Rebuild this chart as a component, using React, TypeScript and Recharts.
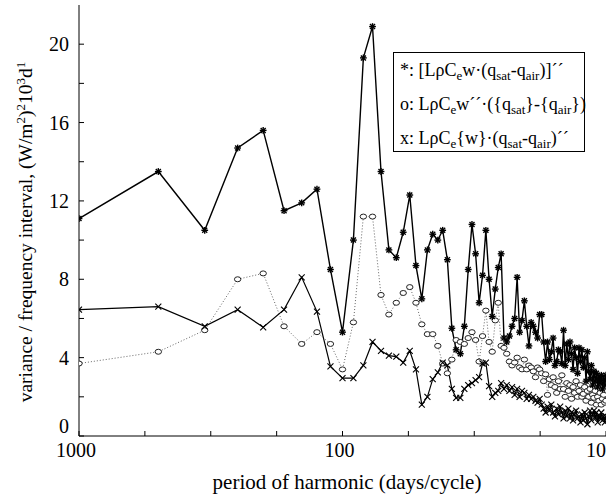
import { Line, LineChart, XAxis, YAxis } from "recharts";

// record length in days; harmonic k has period RECORD_DAYS / k
const RECORD_DAYS = 1000;
const harmonics = Array.from({ length: 100 }, (_, i) => i + 1);

// *: [LpCe w (qsat - qair)]''
const starSeries = [
  11.1, 13.5, 10.5, 14.7, 15.6, 11.5, 11.9, 12.6, 8.5, 5.3,
  10.0, 19.3, 20.9, 13.5, 9.5, 9.1, 10.4, 12.3, 8.7, 7.0,
  9.5, 10.3, 10.0, 10.5, 9.0, 5.5, 4.4, 4.2, 5.6, 8.5,
  10.8, 9.3, 6.8, 8.2, 10.5, 8.0, 6.1, 7.5, 8.6, 9.3,
  5.0, 4.8, 5.1, 5.6, 6.0, 8.1, 5.3, 5.9, 6.9, 5.6,
  4.6, 5.8, 5.6, 5.3, 5.0, 6.2, 6.2, 4.8, 3.8, 4.8,
  3.9, 4.3, 5.0, 3.6, 3.8, 4.4, 4.3, 3.7, 5.4, 3.6,
  4.7, 3.9, 4.8, 4.2, 3.4, 4.5, 4.0, 3.2, 4.5, 3.8,
  4.4, 3.5, 4.0, 2.8, 4.3, 3.3, 2.9, 3.6, 2.6, 3.3,
  2.8, 3.2, 2.5, 3.0, 2.7, 3.1, 2.4, 2.9, 2.6, 3.1,
];

// o: LpCe w''({qsat}-{qair})
const circleSeries = [
  3.7, 4.3, 5.4, 8.0, 8.3, 5.6, 4.7, 5.3, 4.7, 3.4,
  5.8, 11.2, 11.2, 7.2, 6.2, 6.8, 7.3, 7.6, 6.8, 5.7,
  5.2, 5.2, 4.6, 3.7, 3.2, 3.9, 4.9, 4.8, 4.7, 5.0,
  5.3, 4.9, 3.8, 5.1, 6.4, 4.8, 4.3, 5.9, 6.8, 4.6,
  4.5, 4.2, 3.8, 3.6, 3.75, 4.0, 3.5, 3.4, 3.9, 3.4,
  3.6, 3.5, 3.3, 3.0, 3.5, 3.4, 3.2, 2.8, 3.15, 2.1,
  2.9, 2.6, 3.0, 2.5, 2.2, 2.8, 2.4, 3.1, 2.4, 2.0,
  2.7, 2.3, 2.6, 1.9, 2.5, 2.2, 2.8, 2.0, 2.3, 2.6,
  2.0, 2.15, 2.5, 1.8, 2.3, 2.0, 2.4, 1.7, 2.1, 1.95,
  2.3, 1.6, 2.0, 1.8, 2.2, 1.6, 1.9, 2.1, 1.7, 1.8,
];

// x: LpCe{w}(qsat-qair)''
const crossSeries = [
  6.45, 6.6, 5.6, 6.45, 5.55, 6.45, 8.1, 6.35, 3.55, 2.95,
  2.95, 3.6, 4.8, 4.35, 4.1, 4.05, 3.75, 4.35, 3.4, 1.6,
  2.0, 2.9, 3.25, 3.75, 3.6, 2.4, 1.95, 1.95, 2.4, 2.6,
  2.7, 2.85, 3.0, 3.7, 3.75, 2.55, 2.0, 2.2, 2.3, 2.7,
  2.4, 2.6, 2.3, 2.5, 2.1, 2.4, 2.0, 2.3, 2.2, 1.9,
  2.1, 1.9, 2.0, 1.8, 1.7, 1.9, 1.6, 1.4, 1.2, 1.5,
  1.3, 1.6, 1.2, 1.0, 1.4, 1.1, 1.5, 1.2, 0.9, 1.3,
  1.0, 1.4, 0.9, 1.2, 0.8, 1.1, 1.3, 0.9, 1.0, 0.7,
  1.1, 0.8, 1.2, 0.9, 0.6, 1.0, 1.3, 0.8, 1.1, 1.3,
  0.9, 1.2, 0.7, 1.0, 0.9, 1.2, 0.8, 1.0, 0.7, 1.0,
];

const xTicks = [1000, 562.3, 316.2, 177.8, 100, 56.23, 31.62, 17.78, 10];
const xLabels = [1000, 100, 10];
const yTicks = [0, 2, 4, 6, 8, 10, 12, 14, 16, 18, 20];
const yLabels = [0, 4, 8, 12, 16, 20];

const data = harmonics.map((k, i) => ({
  period: RECORD_DAYS / k,
  star: starSeries[i],
  circle: circleSeries[i],
  cross: crossSeries[i],
}));

const FONT = "'Liberation Serif', 'Times New Roman', serif";

const BottomTick = (props: any) => {
  const { x, y, payload } = props;
  const v = payload.value;
  // the last label sits on the right edge, keep it inside the picture
  const atEdge = v === 10;
  return (
    <g>
      <line x1={x} y1={y} x2={x} y2={y - 5} stroke="#000" />
      {xLabels.includes(v) && (
        <text
          x={atEdge ? x : x - 3}
          y={y + 21}
          textAnchor={atEdge ? "end" : "middle"}
          fontSize={20}
          fontFamily={FONT}
          fill="#000"
        >
          {v}
        </text>
      )}
    </g>
  );
};

const TopTick = (props: any) => {
  const { x, y } = props;
  return <line x1={x} y1={y} x2={x} y2={y + 5} stroke="#000" />;
};

const LeftTick = (props: any) => {
  const { x, y, payload } = props;
  const v = payload.value;
  return (
    <g>
      <line x1={x} y1={y} x2={x + 5} y2={y} stroke="#000" />
      {yLabels.includes(v) && (
        <text
          x={x - 10}
          y={v === 0 ? y - 10 : y}
          dy="0.35em"
          textAnchor="end"
          fontSize={20}
          fontFamily={FONT}
          fill="#000"
        >
          {v}
        </text>
      )}
    </g>
  );
};

const RightTick = (props: any) => {
  const { x, y } = props;
  return <line x1={x} y1={y} x2={x - 6} y2={y} stroke="#000" />;
};

const StarDot = (props: any) => {
  const { cx, cy } = props;
  if (cx == null || cy == null) return null;
  const r = 3.4;
  const d = 2.5;
  return (
    <g stroke="#000" strokeWidth={1.4}>
      <line x1={cx - r} y1={cy} x2={cx + r} y2={cy} />
      <line x1={cx} y1={cy - r} x2={cx} y2={cy + r} />
      <line x1={cx - d} y1={cy - d} x2={cx + d} y2={cy + d} />
      <line x1={cx - d} y1={cy + d} x2={cx + d} y2={cy - d} />
    </g>
  );
};

const CircleDot = (props: any) => {
  const { cx, cy } = props;
  if (cx == null || cy == null) return null;
  return <ellipse cx={cx} cy={cy} rx={3.2} ry={2.5} fill="#fff" stroke="#222" strokeWidth={1} />;
};

const CrossDot = (props: any) => {
  const { cx, cy } = props;
  if (cx == null || cy == null) return null;
  const d = 3;
  return (
    <g stroke="#000" strokeWidth={1.1}>
      <line x1={cx - d} y1={cy - d} x2={cx + d} y2={cy + d} />
      <line x1={cx - d} y1={cy + d} x2={cx + d} y2={cy - d} />
    </g>
  );
};

const sub = { fontSize: 13, lineHeight: 0, verticalAlign: "-4px" } as const;

const LegendBox = () => (
  <div
    style={{
      position: "absolute",
      left: 393,
      top: 52,
      width: 192,
      height: 100,
      boxSizing: "border-box",
      border: "1px solid #000",
      background: "#fff",
      fontFamily: FONT,
      fontSize: 18,
      lineHeight: "34px",
      paddingLeft: 6,
      whiteSpace: "nowrap",
      color: "#000",
    }}
  >
    <div>
      *: [LρC<span style={sub}>e</span>w·(q<span style={sub}>sat</span>-q<span style={sub}>air</span>)]´´
    </div>
    <div>
      o: LρC<span style={sub}>e</span>w´´·({"{"}q<span style={sub}>sat</span>{"}"}-{"{"}q<span style={sub}>air</span>{"})"}
    </div>
    <div>
      x: LρC<span style={sub}>e</span>{"{w}"}·(q<span style={sub}>sat</span>-q<span style={sub}>air</span>)´´
    </div>
  </div>
);

const sup = { fontSize: 13, lineHeight: 0, verticalAlign: "7px" } as const;

export default function App() {
  return (
    <div
      style={{
        position: "absolute",
        left: 0,
        top: 0,
        width: 606,
        height: 494,
        background: "#fff",
        overflow: "hidden",
      }}
    >
      <LineChart width={606} height={494} data={data} margin={{ top: 5, right: 0, bottom: 0, left: 0 }}>
        <XAxis
          xAxisId="b"
          dataKey="period"
          type="number"
          scale="log"
          domain={[10, 1000]}
          reversed
          allowDataOverflow
          ticks={xTicks}
          interval={0}
          tickSize={0}
          tickMargin={0}
          tickLine={false}
          tick={<BottomTick />}
          axisLine={{ stroke: "#000" }}
          height={58}
        />
        <XAxis
          xAxisId="t"
          orientation="top"
          dataKey="period"
          type="number"
          scale="log"
          domain={[10, 1000]}
          reversed
          allowDataOverflow
          ticks={xTicks}
          interval={0}
          tickSize={0}
          tickMargin={0}
          tickLine={false}
          tick={<TopTick />}
          axisLine={{ stroke: "#000" }}
          height={0}
        />
        <YAxis
          yAxisId="l"
          type="number"
          domain={[0, 22]}
          allowDataOverflow
          ticks={yTicks}
          interval={0}
          tickSize={0}
          tickMargin={0}
          tickLine={false}
          tick={<LeftTick />}
          axisLine={{ stroke: "#000" }}
          width={79}
        />
        <YAxis
          yAxisId="r"
          orientation="right"
          type="number"
          domain={[0, 22]}
          allowDataOverflow
          ticks={yTicks}
          interval={0}
          tickSize={0}
          tickMargin={0}
          tickLine={false}
          tick={<RightTick />}
          axisLine={false}
          width={0}
        />
        <Line
          xAxisId="b"
          yAxisId="l"
          dataKey="circle"
          stroke="#666"
          strokeWidth={1}
          strokeDasharray="1 2"
          dot={<CircleDot />}
          isAnimationActive={false}
        />
        <Line
          xAxisId="b"
          yAxisId="l"
          dataKey="cross"
          stroke="#000"
          strokeWidth={1.2}
          dot={<CrossDot />}
          isAnimationActive={false}
        />
        <Line
          xAxisId="b"
          yAxisId="l"
          dataKey="star"
          stroke="#000"
          strokeWidth={1.4}
          dot={<StarDot />}
          isAnimationActive={false}
        />
      </LineChart>
      <LegendBox />
      <div
        style={{
          position: "absolute",
          left: 147,
          width: 400,
          top: 472,
          textAlign: "center",
          fontFamily: FONT,
          fontSize: 21,
          lineHeight: "21px",
          color: "#000",
        }}
      >
        period of harmonic (days/cycle)
      </div>
      <div
        style={{
          position: "absolute",
          left: 26 - 220,
          top: 232 - 11,
          width: 440,
          height: 22,
          transform: "rotate(-90deg)",
          transformOrigin: "center",
          textAlign: "center",
          fontFamily: FONT,
          fontSize: 19.5,
          lineHeight: "22px",
          whiteSpace: "nowrap",
          color: "#000",
        }}
      >
        variance / frequency interval, (W/m<span style={sup}>2</span>)<span style={sup}>2</span>10
        <span style={sup}>3</span>d<span style={sup}>1</span>
      </div>
    </div>
  );
}
